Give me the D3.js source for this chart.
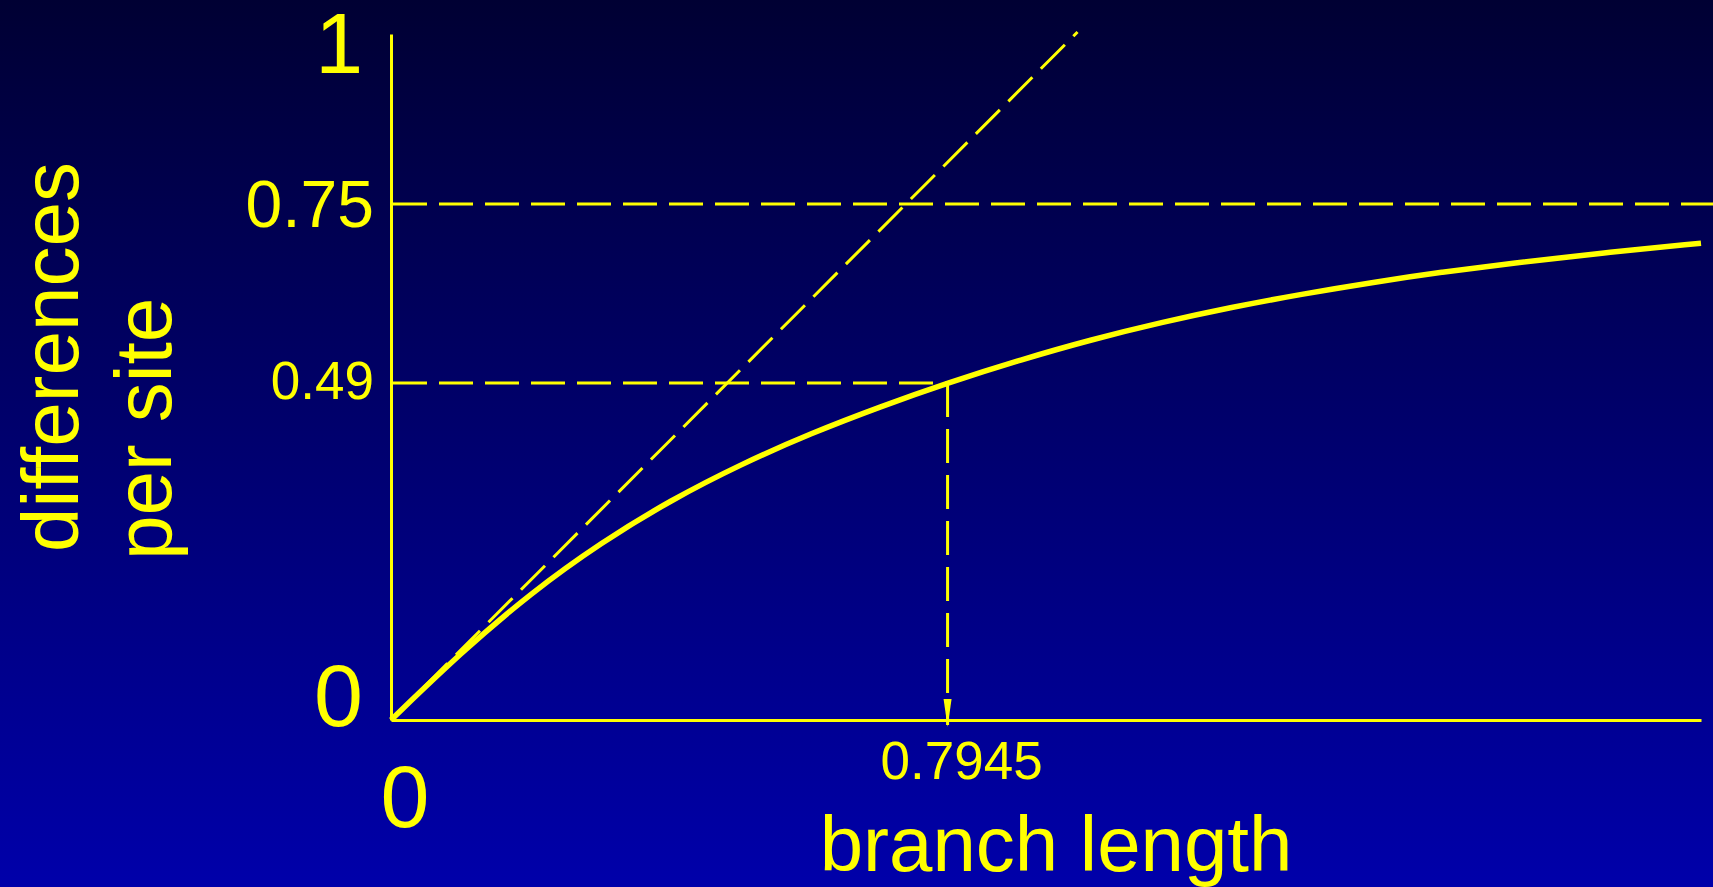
<!DOCTYPE html>
<html>
<head>
<meta charset="utf-8">
<script src="https://cdn.jsdelivr.net/npm/d3@7"></script>
<style>
  html, body { margin: 0; padding: 0; overflow: hidden; background: #000060; }
  svg { display: block; font-family: "Liberation Sans", Arial, sans-serif; }
</style>
</head>
<body>
<div id="chart"></div>
<script>
// Values (branch length d -> differences per site p)
const curveD = [0, 0.1, 0.2, 0.3, 0.4, 0.5, 0.6, 0.7, 0.7945, 0.9, 1.0, 1.1, 1.2, 1.3, 1.4, 1.5, 1.6, 1.73, 1.87];
const curveP = [0, 0.098, 0.185, 0.258, 0.32, 0.372, 0.417, 0.456, 0.49, 0.524, 0.553, 0.578, 0.600, 0.619, 0.636, 0.651, 0.664, 0.679, 0.693];

// dashed diagonal (p = d)
const diagD = [0, 0.98];
const diagP = [0, 1.0];

// dashed guide lines
const guideP = [0.75, 0.49];
const guideEndD = [1.89, 0.7945];
const dropD = 0.7945;

// tick labels
const yTickValues = [0, 0.49, 0.75, 1];
const yTickLabels = ['0', '0.49', '0.75', '1'];
const xTickValues = [0, 0.7945];
const xTickLabels = ['0', '0.7945'];

const xTitle = 'branch length';
const yTitle = ['differences', 'per site'];

const width = 1713, height = 887;
const yellow = '#ffff00';

const svg = d3.select('#chart').append('svg')
  .attr('width', width)
  .attr('height', height);

// background gradient
const defs = svg.append('defs');
const grad = defs.append('linearGradient')
  .attr('id', 'bg')
  .attr('x1', 0).attr('y1', 0).attr('x2', 0).attr('y2', 1);
grad.append('stop').attr('offset', '0%').attr('stop-color', '#000033');
grad.append('stop').attr('offset', '100%').attr('stop-color', '#0000aa');
svg.append('rect').attr('width', width).attr('height', height).attr('fill', 'url(#bg)');

defs.append('marker')
  .attr('id', 'arrow')
  .attr('markerUnits', 'userSpaceOnUse')
  .attr('viewBox', '0 0 28 10')
  .attr('markerWidth', 28)
  .attr('markerHeight', 10)
  .attr('refX', 26)
  .attr('refY', 5)
  .attr('orient', 'auto')
  .append('path')
  .attr('d', 'M0,1 L28,5 L0,9 Z')
  .attr('fill', yellow);

// scales
const x = d3.scaleLinear().domain([0, 1.87]).range([391, 1701]);
const y = d3.scaleLinear().domain([0, 1]).range([720, 32]);

// axes (lines only)
svg.append('g')
  .attr('transform', `translate(0,${y(0)})`)
  .call(d3.axisBottom(x).tickValues([]).tickSizeOuter(0))
  .call(g => g.select('.domain').attr('stroke', yellow).attr('stroke-width', 3));

svg.append('g')
  .attr('transform', `translate(${x(0)},0)`)
  .call(d3.axisLeft(y.copy().range([720, 34])).tickValues([]).tickSizeOuter(0))
  .call(g => g.select('.domain').attr('stroke', yellow).attr('stroke-width', 3));

const dash = '34,12';

// horizontal guides
svg.selectAll('.guide')
  .data(guideP)
  .join('line')
  .attr('class', 'guide')
  .attr('x1', x(0) + 2)
  .attr('x2', (d, i) => x(guideEndD[i]))
  .attr('y1', d => y(d))
  .attr('y2', d => y(d))
  .attr('stroke', yellow)
  .attr('stroke-width', 3)
  .attr('stroke-dasharray', dash);

// vertical drop with arrow
svg.append('line')
  .attr('x1', x(dropD)).attr('x2', x(dropD))
  .attr('y1', y(0.49)).attr('y2', y(0) + 5)
  .attr('stroke', yellow)
  .attr('stroke-width', 3)
  .attr('stroke-dasharray', dash)
  .attr('marker-end', 'url(#arrow)');

// diagonal
const line = d3.line().x(d => x(d[0])).y(d => y(d[1]));
svg.append('path')
  .datum(d3.zip(diagD, diagP))
  .attr('d', line)
  .attr('fill', 'none')
  .attr('stroke', yellow)
  .attr('stroke-width', 3)
  .attr('stroke-dasharray', dash);

// curve
svg.append('path')
  .datum(d3.zip(curveD, curveP))
  .attr('d', line.curve(d3.curveBasis))
  .attr('fill', 'none')
  .attr('stroke', yellow)
  .attr('stroke-width', 5.5)
  .attr('stroke-linecap', 'butt');

// y tick labels
const yTickStyle = [
  { size: 88, dx: -28, dy: 6 },
  { size: 53, dx: -17, dy: 16 },
  { size: 66, dx: -17, dy: 23 },
  { size: 86, dx: -28, dy: 41 }
];
svg.selectAll('.ylab')
  .data(yTickValues)
  .join('text')
  .attr('class', 'ylab')
  .attr('x', (d, i) => x(0) + yTickStyle[i].dx)
  .attr('y', (d, i) => y(d) + yTickStyle[i].dy)
  .attr('text-anchor', 'end')
  .attr('fill', yellow)
  .attr('font-size', (d, i) => yTickStyle[i].size)
  .text((d, i) => yTickLabels[i]);

// x tick labels
const xTickStyle = [
  { size: 88, baseline: 827 },
  { size: 53, baseline: 779 }
];
svg.selectAll('.xlab')
  .data(xTickValues)
  .join('text')
  .attr('class', 'xlab')
  .attr('x', d => x(d) + 14)
  .attr('y', (d, i) => xTickStyle[i].baseline)
  .attr('text-anchor', 'middle')
  .attr('fill', yellow)
  .attr('font-size', (d, i) => xTickStyle[i].size)
  .text((d, i) => xTickLabels[i]);

// axis titles
svg.append('text')
  .attr('x', 1056)
  .attr('y', 871)
  .attr('text-anchor', 'middle')
  .attr('fill', yellow)
  .attr('font-size', 78)
  .text(xTitle);

svg.selectAll('.ytitle')
  .data(yTitle)
  .join('text')
  .attr('class', 'ytitle')
  .attr('transform', (d, i) => `translate(${i ? 171 : 78},${i ? 560 : 552}) rotate(-90)`)
  .attr('fill', yellow)
  .attr('font-size', 80)
  .text(d => d);
</script>
</body>
</html>
